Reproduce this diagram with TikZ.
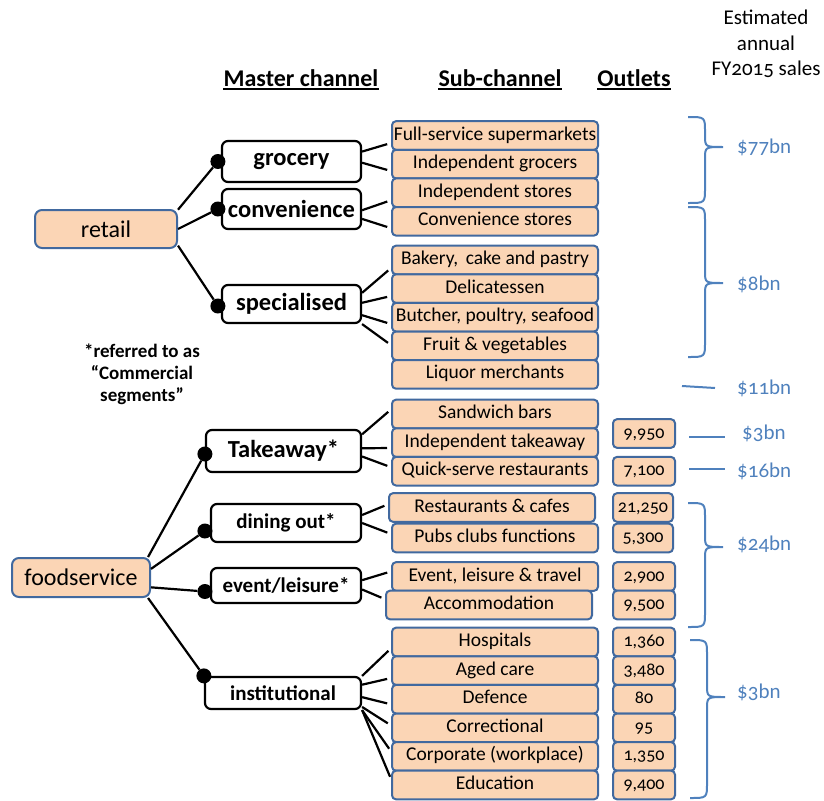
\documentclass[tikz,border=0pt]{standalone}
\usepackage{fontspec}
\setmainfont{Carlito}[Numbers=OldStyle]
\usetikzlibrary{positioning,calc}
\definecolor{peach}{HTML}{FBD5B5}
\definecolor{steel}{HTML}{41699F}
\definecolor{salesblue}{HTML}{4F81BD}

% curly bracket opening to the right: x of the ends, top, tip, bottom
\newcommand{\salesbrace}[4]{%
  \draw[bracestyle] (#1,#2) .. controls (#1+17,#2) .. (#1+17,#2+15)
    -- (#1+17,#3-12) .. controls (#1+17,#3) .. (#1+35,#3)
    .. controls (#1+17,#3) .. (#1+17,#3+12)
    -- (#1+17,#4-15) .. controls (#1+17,#4) .. (#1,#4);}

\begin{document}
\begin{tikzpicture}[x=1pt, y=-1pt,
  rootbox/.style={draw=steel, fill=peach, line width=2pt, rounded corners=7pt, inner sep=0pt, font=\fontsize{24}{26}\selectfont},
  master/.style={draw=black, fill=white, line width=2.2pt, rounded corners=6pt, inner sep=0pt, minimum width=139pt, font=\fontsize{24.5}{26}\selectfont\bfseries},
  mastersmall/.style={master, font=\fontsize{21}{23}\selectfont\bfseries},
  sub/.style={draw=steel, fill=peach, line width=2pt, rounded corners=4pt, inner sep=0pt, outer sep=0pt, minimum width=206pt, minimum height=28.6pt, text height=13.5pt, text depth=4.5pt, font=\fontsize{19.5}{21}\selectfont},
  outlet/.style={sub, minimum width=62pt, font=\fontsize{18}{20}\selectfont},
  hdr/.style={inner sep=0pt, font=\fontsize{24}{26}\selectfont\bfseries},
  note/.style={align=center, inner sep=0pt, font=\fontsize{19}{22}\selectfont\bfseries},
  jointdot/.style={circle, fill=black, inner sep=0pt, minimum size=15pt},
  trunk/.style={line width=2.2pt},
  link/.style={line width=2.2pt, shorten >=5pt},
  sales/.style={anchor=west, inner sep=0pt, text=salesblue, font=\fontsize{21}{23}\selectfont},
  bracestyle/.style={draw=salesblue, line width=2pt},
  tick/.style={draw=salesblue, line width=2pt}
]
\useasboundingbox (0,0) rectangle (824,800);

% column headings
\node[hdr] (hmaster) at (301,78) {Master channel};
\node[hdr] (hsub) at (500,78) {Sub-channel};
\node[hdr] (houtlets) at (634,78) {Outlets};
\foreach \h in {hmaster,hsub,houtlets}
  \draw[line width=2pt] ([yshift=-3pt]\h.base west) -- ([yshift=-3pt]\h.base east);
\node[align=center, inner sep=0pt, font=\fontsize{21}{25.5}\selectfont] (hsales) at (766,44) {Estimated\\annual\\FY2015 sales};

% retail
\node[rootbox, minimum width=142pt, minimum height=38pt] (retail) at (106,229) {retail};
\node[master, minimum height=41pt] (grocery) at (291.5,161.5) {grocery};
\node[master, minimum height=40pt] (convenience) at (291.5,209) {convenience};
\node[master, minimum height=38pt] (specialised) at (291.5,304) {specialised};

\node[sub] (fss) at (495,135.5) {Full-service supermarkets};
\node[sub, below=0pt of fss] (indgro) {Independent grocers};
\node[sub, below=0pt of indgro] (indsto) {Independent stores};
\node[sub, below=0pt of indsto] (convsto) {Convenience stores};
\node[sub] (bakery) at (495,260) {Bakery,\, cake and pastry};
\node[sub, below=0pt of bakery] (deli) {Delicatessen};
\node[sub, below=0pt of deli] (butcher) {Butcher, poultry, seafood};
\node[sub, below=0pt of butcher] (fruit) {Fruit \& vegetables};
\node[sub, below=0pt of fruit] (liquor) {Liquor merchants};

\node[note] (footnote) at (142,374) {*referred to as\\“Commercial\\segments”};

% foodservice
\node[rootbox, minimum width=138pt, minimum height=39pt] (foodservice) at (81,577.5) {foodservice};
\node[master, minimum width=155pt, minimum height=42pt] (takeaway) at (283.5,451) {Takeaway*};
\node[mastersmall, minimum width=150pt, minimum height=38pt] (dining) at (286,523) {dining out*};
\node[mastersmall, minimum width=150pt, minimum height=35pt] (event) at (286,585.5) {event/leisure*};
\node[mastersmall, minimum width=156pt, minimum height=32pt] (institutional) at (283,693) {institutional};

\node[sub] (sandwich) at (495,414) {Sandwich bars};
\node[sub, below=0pt of sandwich] (indtake) {Independent takeaway};
\node[sub, below=0pt of indtake] (quick) {Quick-serve restaurants};
\node[sub] (restcafe) at (492,507.5) {Restaurants \& cafes};
\node[sub] (pubs) at (495,538) {Pubs clubs functions};
\node[sub] (evtravel) at (495,576.5) {Event, leisure \& travel};
\node[sub] (accom) at (489,605) {Accommodation};
\node[sub] (hosp) at (495,642) {Hospitals};
\node[sub, below=0pt of hosp] (aged) {Aged care};
\node[sub, below=0pt of aged] (defence) {Defence};
\node[sub, below=0pt of defence] (correct) {Correctional};
\node[sub, below=0pt of correct] (corporate) {Corporate (workplace)};
\node[sub, below=0pt of corporate] (education) {Education};

% outlets
\node[outlet] (o9950) at (644,433.5) {9,950};
\node[outlet] (o7100) at (644,471.2) {7,100};
\node[outlet, minimum width=60pt] (o21250) at (643,507.5) {21,250};
\node[outlet, minimum width=60pt] (o5300) at (643,538) {5,300};
\node[outlet] (o2900) at (644,576.5) {2,900};
\node[outlet] (o9500) at (644,605) {9,500};
\node[outlet] (o1360) at (644,642) {1,360};
\node[outlet, below=0pt of o1360] (o3480) {3,480};
\node[outlet, below=0pt of o3480] (o80) {80};
\node[outlet, below=0pt of o80] (o95) {95};
\node[outlet, below=0pt of o95] (o1350) {1,350};
\node[outlet, below=0pt of o1350] (o9400) {9,400};

% joints
\node[jointdot] (dgrocery) at ([xshift=-3pt]grocery.west) {};
\node[jointdot] (dconvenience) at ([xshift=-3pt]convenience.west) {};
\node[jointdot] (dspecialised) at ($(specialised.west)+(-3,2)$) {};
\node[jointdot] (dtakeaway) at ($(takeaway.west)+(0,3)$) {};
\node[jointdot] (ddining) at ($(dining.west)+(-5,8)$) {};
\node[jointdot] (devent) at ($(event.west)+(-5,6)$) {};
\node[jointdot] (dinstitutional) at (institutional.north west) {};

\draw[trunk] (retail.15) -- (dgrocery); \draw[trunk] (retail.east) -- (dconvenience);
\draw[trunk] (retail.-13) -- (dspecialised);
\draw[trunk] (foodservice.17) -- (dtakeaway); \draw[trunk] (foodservice.7) -- (ddining);
\draw[trunk] (foodservice.-8) -- (devent); \draw[trunk] (foodservice.-17) -- (dinstitutional);

\draw[link] (grocery.8) -- (fss.184); \draw[link] (grocery.-1) -- (indgro.184);
\draw[link] (convenience.-1) -- (indsto.184); \draw[link] (convenience.-8) -- (convsto.184);
\draw[link] (specialised.9) -- (bakery.184); \draw[link] (specialised.1) -- (deli.184);
\draw[link] (specialised.-9) -- (butcher.184); \draw[link] (specialised.south east) -- (fruit.west);
\draw[link] (takeaway.12) -- (sandwich.177); \draw[link] (takeaway.2) -- (indtake.183);
\draw[link] (takeaway.-4) -- (quick.178);
\draw[link] (dining.6) -- (restcafe.178); \draw[link] (dining.east) -- (pubs.178);
\draw[link] (event.4) -- (evtravel.177); \draw[link] (event.-3) -- (accom.177);
\draw[link] (institutional.north east) -- (hosp.183); \draw[link] (institutional.6) -- (aged.184);
\draw[link] (institutional.-3) -- (defence.183); \draw[link] (institutional.-10) -- (correct.179);
\draw[link] (institutional.south east) -- (corporate.178); \draw[link] (institutional.south east) -- (education.178);

% sales estimates
\salesbrace{688}{117}{147}{203}
\salesbrace{688}{207}{283}{357}
\salesbrace{688}{503}{547}{627}
\salesbrace{690}{640}{697}{798}
\coordinate (t11a) at (682,386); \coordinate (t11b) at (715,388);
\coordinate (t3a) at (689,437); \coordinate (t3b) at (725,437);
\coordinate (t16a) at (689,469); \coordinate (t16b) at (725,469);
\draw[tick] (t11a) -- (t11b); \draw[tick] (t3a) -- (t3b); \draw[tick] (t16a) -- (t16b);

\node[sales] (s77) at (737,147) {\$77bn};
\node[sales] (s8) at (737,284) {\$8bn};
\node[sales] (s11) at (737,388) {\$11bn};
\node[sales] (s3take) at (742,433) {\$3bn};
\node[sales] (s16) at (737,471) {\$16bn};
\node[sales] (s24) at (737,544) {\$24bn};
\node[sales] (s3inst) at (737,692) {\$3bn};
\end{tikzpicture}
\end{document}
